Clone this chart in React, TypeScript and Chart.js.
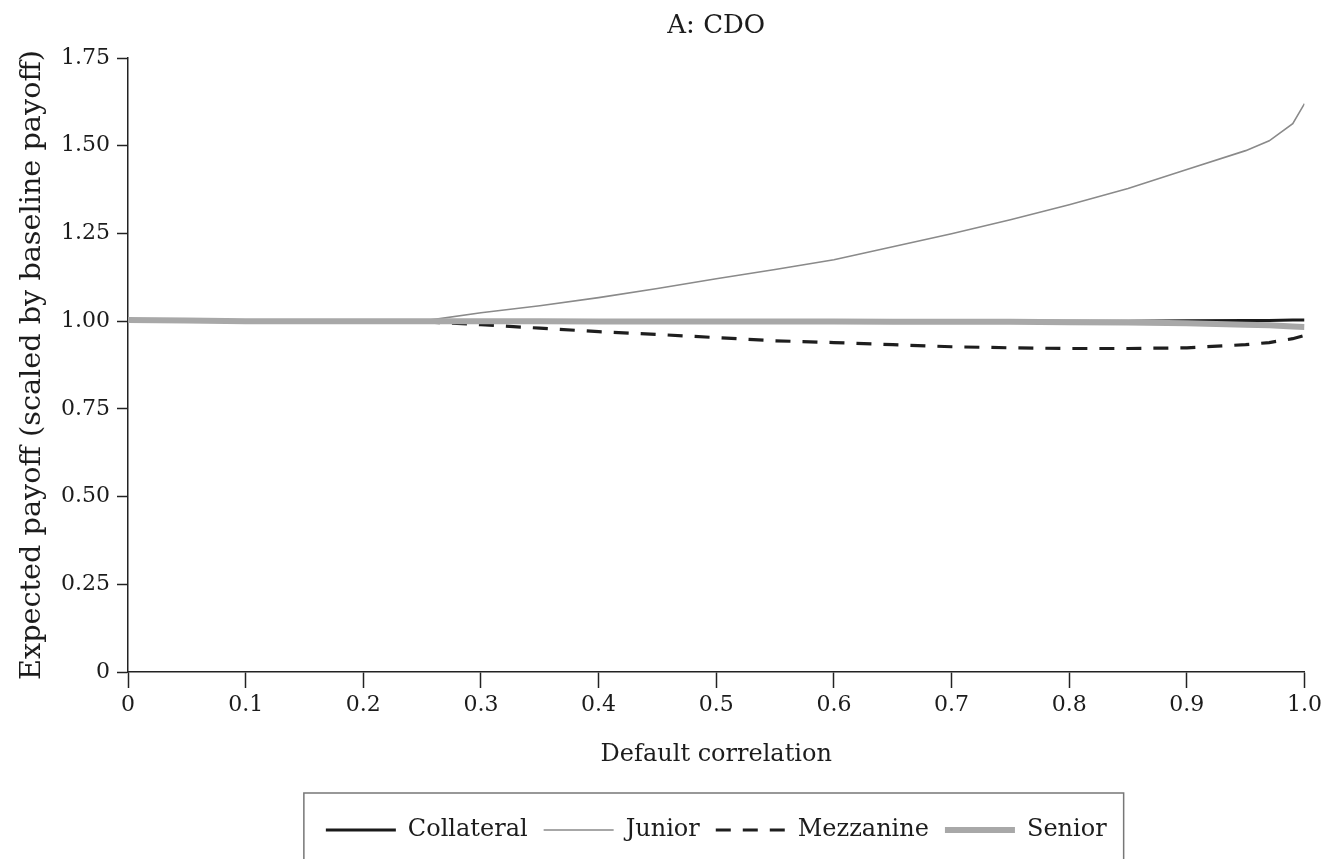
import React, { useEffect, useRef } from 'react';
import { Chart, registerables } from 'chart.js';

Chart.register(...registerables);

const correlation = [0, 0.05, 0.1, 0.15, 0.2, 0.25, 0.3, 0.35, 0.4, 0.45, 0.5, 0.55, 0.6, 0.65, 0.7, 0.75, 0.8, 0.85, 0.9, 0.95, 0.97, 0.99, 1.0];
const collateral = [1.002, 1.0, 1.0, 1.0, 1.0, 1.0, 1.0, 1.0, 1.0, 1.0, 1.0, 1.0, 1.0, 1.0, 1.0, 1.0, 1.0, 1.0, 1.001, 1.002, 1.002, 1.003, 1.003];
const junior = [1.0, 1.0, 0.999, 0.999, 0.999, 1.0, 1.024, 1.044, 1.067, 1.093, 1.121, 1.147, 1.175, 1.212, 1.249, 1.289, 1.332, 1.378, 1.432, 1.486, 1.514, 1.563, 1.62];
const mezzanine = [1.0, 1.0, 1.0, 1.0, 1.0, 0.998, 0.99, 0.98, 0.97, 0.962, 0.953, 0.944, 0.939, 0.933, 0.927, 0.924, 0.922, 0.922, 0.924, 0.933, 0.939, 0.95, 0.959];
const senior = [1.003, 1.002, 1.0, 1.0, 1.0, 1.0, 1.0, 1.0, 0.999, 0.999, 0.999, 0.999, 0.999, 0.998, 0.998, 0.998, 0.997, 0.996, 0.994, 0.99, 0.988, 0.985, 0.983];

const seriesNames = ['Collateral', 'Junior', 'Mezzanine', 'Senior'];
const xTickLabels = ['0', '0.1', '0.2', '0.3', '0.4', '0.5', '0.6', '0.7', '0.8', '0.9', '1.0'];
const yTickLabels = ['0', '0.25', '0.50', '0.75', '1.00', '1.25', '1.50', '1.75'];

const titleText = 'A: CDO';
const xTitle = 'Default correlation';
const yTitle = 'Expected payoff (scaled by baseline payoff)';

const FONT = "'DejaVu Serif', serif";
const TEXT = '#1c1c1c';

const toPoints = (ys: number[]) => correlation.map((x, i) => ({ x, y: ys[i] }));

const legendBoxPlugin = {
  id: 'legendBox',
  afterDraw(chart: any) {
    const lg = chart.legend;
    if (!lg || !lg.legendHitBoxes || !lg.legendHitBoxes.length) return;
    const hb = lg.legendHitBoxes;
    const first = hb[0];
    const last = hb[hb.length - 1];
    const left = first.left - 22;
    const right = last.left + last.width + 17;
    const top = lg.top - 9;
    const ctx = chart.ctx;
    ctx.save();
    ctx.strokeStyle = '#777';
    ctx.lineWidth = 1.5;
    ctx.setLineDash([]);
    ctx.strokeRect(left, top, right - left, chart.height - top + 20);
    ctx.restore();
  },
};

export default function App() {
  const ref = useRef<HTMLCanvasElement | null>(null);

  useEffect(() => {
    if (!ref.current) return;
    const chart = new Chart(ref.current, {
      type: 'line',
      data: {
        datasets: [
          {
            label: seriesNames[0],
            data: toPoints(collateral),
            borderColor: '#1a1a1a',
            borderWidth: 3,
            pointRadius: 0,
            order: 3,
          },
          {
            label: seriesNames[1],
            data: toPoints(junior),
            borderColor: '#8a8a8a',
            borderWidth: 1.6,
            pointRadius: 0,
            order: 2,
          },
          {
            label: seriesNames[2],
            data: toPoints(mezzanine),
            borderColor: '#1e1e1e',
            borderWidth: 3.2,
            borderDash: [15, 12],
            pointRadius: 0,
            order: 1,
          },
          {
            label: seriesNames[3],
            data: toPoints(senior),
            borderColor: '#a8a8a8',
            borderWidth: 6,
            pointRadius: 0,
            order: 0,
          },
        ],
      },
      options: {
        responsive: true,
        maintainAspectRatio: false,
        animation: false,
        layout: { padding: { left: 0, right: 21, top: 0, bottom: 7 } },
        plugins: {
          title: {
            display: true,
            text: titleText,
            color: TEXT,
            fullSize: false,
            font: { family: FONT, size: 26, weight: 'normal' },
            padding: { top: 11, bottom: 15.8 },
          },
          legend: {
            position: 'bottom',
            fullSize: false,
            labels: {
              usePointStyle: true,
              pointStyle: 'line',
              pointStyleWidth: 70,
              color: TEXT,
              padding: 16,
              font: { family: FONT, size: 24 },
              generateLabels: (c: any) => {
                const items = Chart.defaults.plugins.legend.labels.generateLabels(c);
                items.forEach((it: any) => {
                  const ds: any = c.data.datasets[it.datasetIndex];
                  it.lineWidth = ds.borderWidth;
                  it.lineDash = ds.borderDash || [];
                  it.strokeStyle = ds.borderColor;
                  it.lineCap = 'butt';
                });
                return items;
              },
              sort: (a: any, b: any) => a.datasetIndex - b.datasetIndex,
            },
          },
          tooltip: { enabled: false },
        },
        scales: {
          x: {
            type: 'linear',
            min: 0,
            max: 1,
            grid: {
              display: true,
              drawOnChartArea: false,
              drawTicks: true,
              tickLength: 16,
              tickColor: '#222',
              tickWidth: 1.5,
            },
            border: { display: true, color: '#222', width: 1.5 },
            ticks: {
              stepSize: 0.1,
              color: TEXT,
              padding: 4,
              maxRotation: 0,
              autoSkip: false,
              font: { family: FONT, size: 22 },
              callback: (v: any) => xTickLabels[Math.round(Number(v) * 10)] ?? '',
            },
            title: {
              display: true,
              text: xTitle,
              color: TEXT,
              font: { family: FONT, size: 24 },
              padding: { top: 0, bottom: 32.6 },
            },
            afterFit: (s: any) => {
              s.height = 130;
            },
          },
          y: {
            type: 'linear',
            min: 0,
            max: 1.75,
            grid: {
              display: true,
              drawOnChartArea: false,
              drawTicks: true,
              tickLength: 11,
              tickColor: '#222',
              tickWidth: 1.5,
            },
            border: { display: true, color: '#222', width: 1.5 },
            ticks: {
              stepSize: 0.25,
              color: TEXT,
              padding: 7,
              font: { family: FONT, size: 22 },
              callback: (v: any) => yTickLabels[Math.round(Number(v) * 4)] ?? '',
            },
            title: {
              display: true,
              text: yTitle,
              color: TEXT,
              font: { family: FONT, size: 28.7 },
              padding: { top: 15, bottom: 0 },
            },
            afterFit: (s: any) => {
              s.width = 128;
            },
          },
        },
      },
      plugins: [legendBoxPlugin],
    });
    return () => chart.destroy();
  }, []);

  return (
    <div style={{ position: 'fixed', top: 0, left: 0, width: 1326, height: 859, background: '#fff' }}>
      <canvas ref={ref} />
    </div>
  );
}
